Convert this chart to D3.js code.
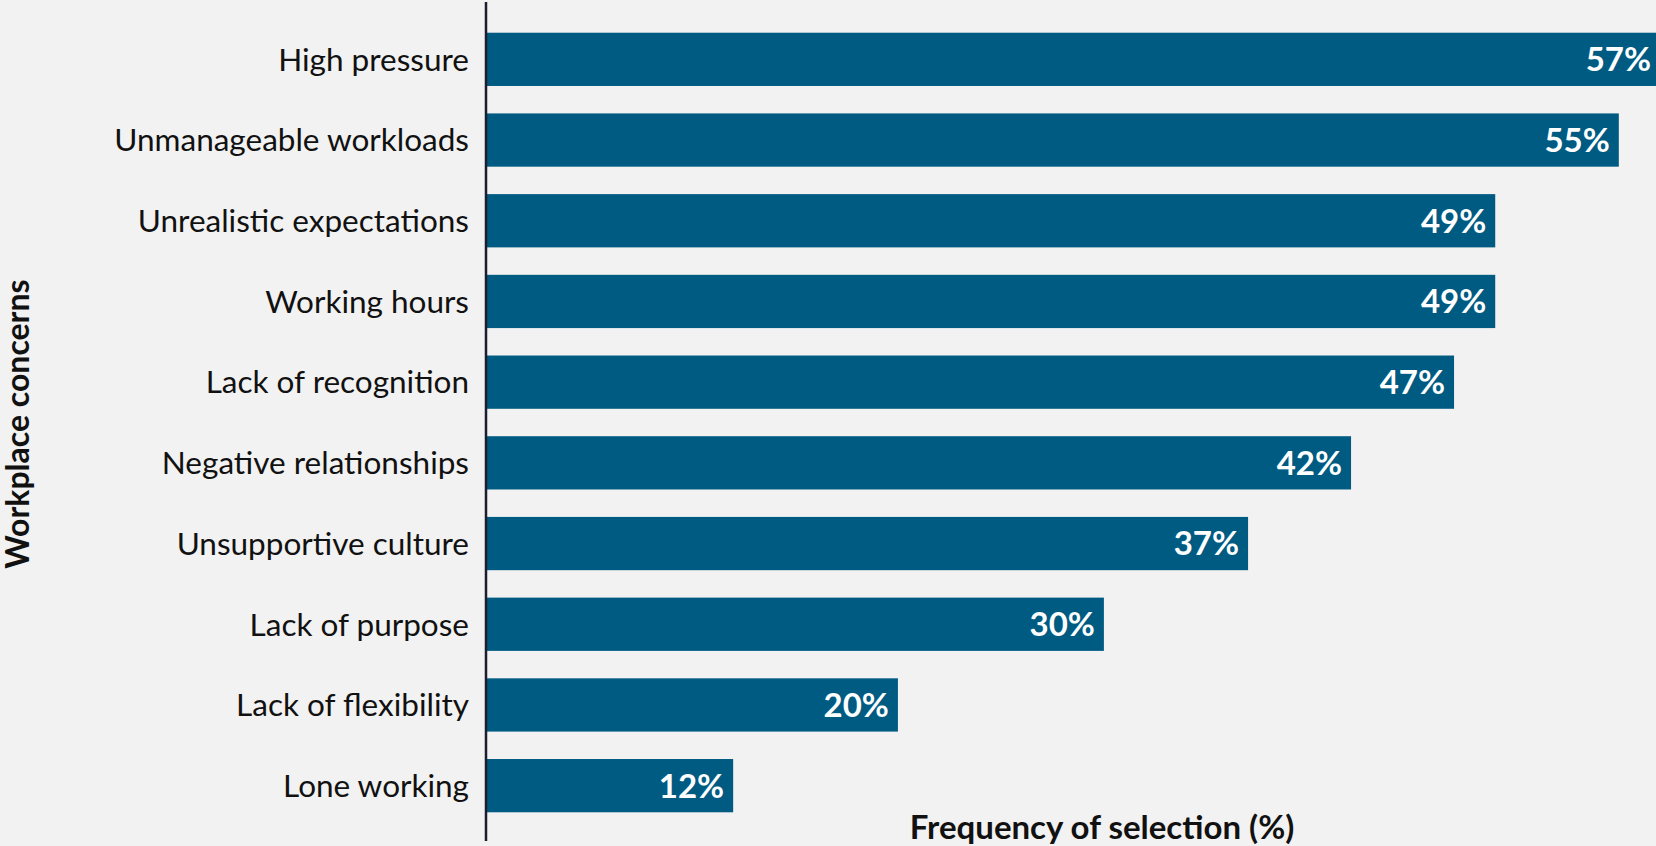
<!DOCTYPE html>
<html>
<head>
<meta charset="utf-8">
<script src="https://cdn.jsdelivr.net/npm/d3@7"></script>
<style>
  html, body { margin: 0; padding: 0; background: #F2F2F2; }
  svg { display: block; }
</style>
</head>
<body>
<svg id="chart" width="1656" height="846"></svg>
<script>
const categories = [
  "High pressure",
  "Unmanageable workloads",
  "Unrealistic expectations",
  "Working hours",
  "Lack of recognition",
  "Negative relationships",
  "Unsupportive culture",
  "Lack of purpose",
  "Lack of flexibility",
  "Lone working"
];
const values = [57, 55, 49, 49, 47, 42, 37, 30, 20, 12];
const xTitle = "Frequency of selection (%)";
const yTitle = "Workplace concerns";

const W = 1656, H = 846;
const svg = d3.select("#chart");
svg.append("rect").attr("width", W).attr("height", H).attr("fill", "#F2F2F2");

const x0 = 486;
const x = d3.scaleLinear().domain([0, 57]).range([x0, 1660]);
const y = d3.scaleBand().domain(categories).range([19, 826]).paddingInner(0.34).paddingOuter(0.17);

const data = categories.map((c, i) => ({ c, v: values[i] }));

svg.append("g").selectAll("rect").data(data).join("rect")
  .attr("x", x(0))
  .attr("y", d => y(d.c))
  .attr("width", d => x(d.v) - x(0))
  .attr("height", y.bandwidth())
  .attr("fill", "#005B82");

svg.append("g").selectAll("text").data(data).join("text")
  .attr("x", d => x(d.v) - 9)
  .attr("y", d => y(d.c) + y.bandwidth() / 2)
  .attr("dy", "0.36em")
  .attr("text-anchor", "end")
  .attr("fill", "#FFFFFF")
  .style("font-family", "Lato, 'Open Sans', sans-serif")
  .style("font-weight", "700")
  .style("font-size", "33px")
  .text(d => d.v + "%");

const yAxis = d3.axisLeft(y).tickSize(0).tickPadding(17);
const gy = svg.append("g").attr("transform", `translate(${x0},0)`).call(yAxis);
gy.select(".domain").remove();
gy.selectAll("text")
  .attr("fill", "#111111")
  .attr("dy", "0.36em")
  .style("font-family", "Lato, 'Open Sans', sans-serif")
  .style("font-size", "31.5px");

svg.append("line")
  .attr("x1", x0).attr("x2", x0)
  .attr("y1", 2).attr("y2", 841)
  .attr("stroke", "#1C1D2E")
  .attr("stroke-width", 2.5);

svg.append("text")
  .attr("x", 1102)
  .attr("y", 839)
  .attr("text-anchor", "middle")
  .attr("fill", "#111111")
  .style("font-family", "Lato, 'Open Sans', sans-serif")
  .style("font-weight", "700")
  .style("font-size", "33px")
  .text(xTitle);

svg.append("text")
  .attr("transform", "translate(29,424) rotate(-90)")
  .attr("text-anchor", "middle")
  .attr("fill", "#111111")
  .style("font-family", "Lato, 'Open Sans', sans-serif")
  .style("font-weight", "700")
  .style("font-size", "32px")
  .text(yTitle);
</script>
</body>
</html>
